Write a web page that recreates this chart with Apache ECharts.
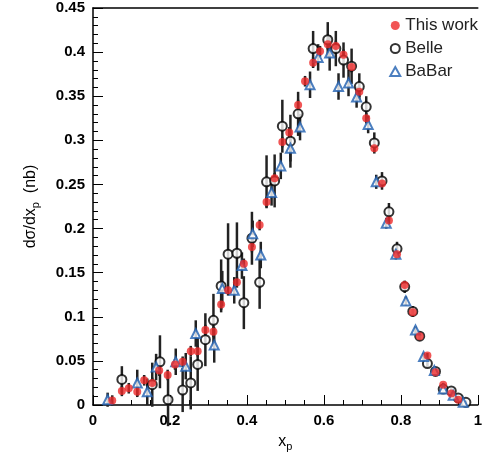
<!DOCTYPE html>
<html>
<head>
<meta charset="UTF-8">
<script src="https://cdn.jsdelivr.net/npm/echarts@6/dist/echarts.min.js"></script>
</head>
<body style="margin:0">
<div id="main" style="width:485px;height:457px;"></div>
<script>
// This work
var thisX = [0.05,0.075,0.093,0.115,0.133,0.154,0.172,0.194,0.213,0.233,0.254,0.272,0.292,0.313,0.333,0.351,0.374,0.392,0.413,0.433,0.451,0.472,0.492,0.51,0.533,0.551,0.572,0.59,0.61,0.631,0.651,0.672,0.692,0.71,0.731,0.751,0.769,0.79,0.81,0.831,0.849,0.869,0.89,0.91,0.931,0.949];
var thisY = [0.005,0.016,0.019,0.015,0.028,0.025,0.039,0.034,0.046,0.049,0.061,0.061,0.085,0.083,0.114,0.130,0.139,0.160,0.179,0.204,0.230,0.257,0.298,0.309,0.340,0.367,0.388,0.401,0.409,0.407,0.397,0.383,0.355,0.325,0.291,0.251,0.209,0.171,0.136,0.105,0.078,0.056,0.037,0.023,0.013,0.006];
var thisE = [0.006,0.006,0.006,0.006,0.006,0.006,0.006,0.006,0.006,0.006,0.006,0.006,0.006,0.006,0.006,0.006,0.006,0.006,0.006,0.006,0.006,0.006,0.006,0.006,0.006,0.006,0.006,0.006,0.006,0.006,0.006,0.006,0.006,0.006,0.004,0.004,0.004,0.004,0.004,0.003,0.003,0.003,0.002,0.002,0.002,0.002];
// Belle
var belleX = [0.075,0.154,0.174,0.195,0.233,0.254,0.272,0.292,0.313,0.333,0.351,0.374,0.392,0.413,0.433,0.451,0.472,0.492,0.513,0.533,0.572,0.61,0.631,0.651,0.672,0.692,0.71,0.731,0.751,0.769,0.79,0.81,0.831,0.849,0.869,0.89,0.91,0.931,0.949,0.969];
var belleY = [0.029,0.023,0.049,0.006,0.017,0.025,0.046,0.074,0.096,0.135,0.171,0.172,0.116,0.189,0.139,0.253,0.254,0.316,0.299,0.330,0.404,0.414,0.404,0.391,0.384,0.361,0.338,0.297,0.254,0.219,0.177,0.134,0.106,0.078,0.047,0.038,0.018,0.016,0.008,0.003];
var belleE = [0.015,0.025,0.030,0.030,0.025,0.030,0.030,0.030,0.030,0.030,0.035,0.035,0.030,0.030,0.030,0.030,0.030,0.030,0.030,0.025,0.020,0.020,0.020,0.020,0.020,0.015,0.012,0.012,0.010,0.010,0.008,0.007,0.006,0.005,0.004,0.004,0.003,0.003,0.002,0.002];
// BaBar
var babarX = [0.038,0.115,0.141,0.164,0.215,0.241,0.267,0.315,0.336,0.367,0.387,0.415,0.436,0.464,0.488,0.513,0.538,0.564,0.585,0.615,0.638,0.664,0.685,0.715,0.736,0.762,0.787,0.813,0.838,0.859,0.887,0.91,0.936,0.962];
var babarY = [0.006,0.025,0.015,0.043,0.049,0.044,0.081,0.068,0.132,0.130,0.158,0.194,0.170,0.241,0.271,0.291,0.315,0.363,0.394,0.399,0.361,0.365,0.349,0.318,0.253,0.206,0.171,0.118,0.085,0.055,0.039,0.018,0.011,0.003];
var babarE = [0.008,0.015,0.015,0.015,0.015,0.015,0.015,0.020,0.020,0.015,0.015,0.015,0.015,0.015,0.015,0.015,0.015,0.015,0.015,0.020,0.015,0.015,0.012,0.010,0.008,0.006,0.006,0.005,0.004,0.004,0.003,0.003,0.002,0.002];

function pts(xs, ys) { return xs.map(function (x, i) { return [x, ys[i]]; }); }
function bars(xs, ys, es) { return xs.map(function (x, i) { return [x, ys[i] - es[i], ys[i] + es[i]]; }); }
function errSeries(data, color) {
    return {
        type: 'custom', silent: true, z: 1, data: data,
        renderItem: function (params, api) {
            var lo = api.coord([api.value(0), api.value(1)]);
            var hi = api.coord([api.value(0), api.value(2)]);
            return { type: 'line', shape: { x1: lo[0], y1: lo[1], x2: hi[0], y2: hi[1] }, style: { stroke: color, lineWidth: 2.5 } };
        }
    };
}
var nameRich = {
    a: { fontFamily: 'Liberation Sans', fontSize: 16, color: '#000' },
    b: { fontFamily: 'Liberation Sans', fontSize: 11, color: '#000', padding: [10, 0, 0, 0] }
};
var myChart = echarts.init(document.getElementById('main'));
myChart.setOption({
    animation: false,
    grid: { left: 93, right: 2, top: 8, bottom: 50 },
    legend: {
        right: 2, top: 12, orient: 'vertical', itemGap: 6, itemWidth: 10, itemHeight: 9,
        textStyle: { fontFamily: 'Liberation Sans', fontSize: 17, color: '#222' },
        data: ['This work', 'Belle', 'BaBar']
    },
    xAxis: [{
        type: 'value', min: 0, max: 1, interval: 0.2,
        axisLine: { lineStyle: { color: '#000', width: 1.5 } },
        axisTick: { inside: true, length: 10, lineStyle: { color: '#000' } },
        minorTick: { show: true, splitNumber: 4, length: 5, lineStyle: { color: '#000' } },
        splitLine: { show: false },
        axisLabel: { fontFamily: 'Liberation Sans', fontWeight: 'bold', fontSize: 15, color: '#000',
            formatter: function (v) { return v === 0 || v === 1 ? String(v) : v.toFixed(1); } },
        name: '{a|x}{b|p}', nameLocation: 'middle', nameGap: 26, nameTextStyle: { rich: nameRich }
    }, {
        type: 'value', position: 'top', min: 0, max: 1, axisLine: { lineStyle: { color: '#000', width: 1.5 } },
        axisTick: { show: false }, axisLabel: { show: false }, splitLine: { show: false }
    }],
    yAxis: [{
        type: 'value', min: 0, max: 0.45, interval: 0.05,
        axisLine: { lineStyle: { color: '#000', width: 1.5 } },
        axisTick: { inside: true, length: 10, lineStyle: { color: '#000' } },
        minorTick: { show: true, splitNumber: 5, length: 5, lineStyle: { color: '#000' } },
        splitLine: { show: false },
        axisLabel: { fontFamily: 'Liberation Sans', fontWeight: 'bold', fontSize: 15, color: '#000',
            formatter: function (v) { return v === 0 ? '0' : String(+v.toFixed(2)); } },
        name: '{a|dσ/dx}{b|p}{a|  (nb)}', nameLocation: 'middle', nameGap: 52, nameTextStyle: { rich: nameRich }
    }],
    series: [
        errSeries(bars(belleX, belleY, belleE), '#222'),
        errSeries(bars(babarX, babarY, babarE), '#222'),
        errSeries(bars(thisX, thisY, thisE), '#222'),
        { name: 'Belle', type: 'scatter', z: 3, symbol: 'circle', symbolSize: 9, data: pts(belleX, belleY),
          itemStyle: { color: '#fff', borderColor: '#000', borderWidth: 2 } },
        { name: 'BaBar', type: 'scatter', z: 4, symbol: 'triangle', symbolSize: 9, data: pts(babarX, babarY),
          itemStyle: { color: '#fff', borderColor: '#1f5fb0', borderWidth: 2 } },
        { name: 'This work', type: 'scatter', z: 5, symbol: 'circle', symbolSize: 8, data: pts(thisX, thisY),
          itemStyle: { color: '#ee2a2a' } }
    ]
});
</script>
</body>
</html>
